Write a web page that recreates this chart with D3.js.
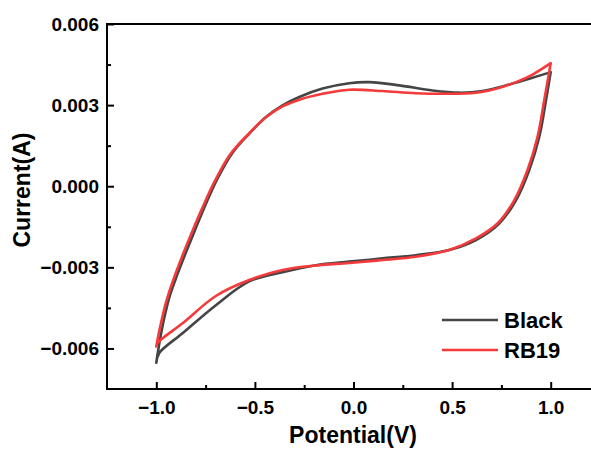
<!DOCTYPE html>
<html>
<head>
<meta charset="utf-8">
<script src="https://cdn.jsdelivr.net/npm/d3@7"></script>
<style>
  body { margin: 0; background: #fff; }
  svg { display: block; font-family: "Liberation Sans", Arial, sans-serif; font-weight: bold; }
</style>
</head>
<body>
<svg width="591" height="456"></svg>
<script>
// CV loops: [potential V, current A]
// forward sweep (-1 -> 1) and reverse sweep (1 -> -1) kept apart so the corners stay sharp
const blackForward = [
  [-1.00, -0.00653], [-0.990, -0.00605], [-0.975, -0.00542], [-0.955, -0.00472],
  [-0.930, -0.00402], [-0.894, -0.00328], [-0.853, -0.00251], [-0.802, -0.00159],
  [-0.747, -0.00063], [-0.691, 0.00026], [-0.615, 0.00122], [-0.529, 0.00194],
  [-0.444, 0.00256], [-0.360, 0.00299], [-0.275, 0.00330], [-0.157, 0.00361],
  [-0.022, 0.00381], [0.080, 0.00385], [0.232, 0.00373], [0.401, 0.00354],
  [0.536, 0.00346], [0.654, 0.00352], [0.790, 0.00376], [0.908, 0.00401],
  [1.00, 0.00422]
];
const blackReverse = [
  [1.00, 0.00422], [0.976, 0.00317], [0.942, 0.00182], [0.891, 0.00059],
  [0.824, -0.00052], [0.739, -0.00138], [0.621, -0.00199], [0.485, -0.00236],
  [0.316, -0.00255], [0.147, -0.00267], [-0.022, -0.00279], [-0.191, -0.00292],
  [-0.360, -0.00318], [-0.529, -0.00352], [-0.698, -0.00440], [-0.867, -0.00544],
  [-0.985, -0.00617], [-1.00, -0.00653]
];
const rb19Forward = [
  [-1.00, -0.00593], [-0.990, -0.00553], [-0.975, -0.00502], [-0.950, -0.00428],
  [-0.914, -0.00347], [-0.874, -0.00269], [-0.823, -0.00177], [-0.767, -0.00081],
  [-0.706, 0.00015], [-0.625, 0.00118], [-0.529, 0.00196], [-0.444, 0.00255],
  [-0.360, 0.00295], [-0.275, 0.00320], [-0.157, 0.00342], [-0.022, 0.00357],
  [0.147, 0.00352], [0.316, 0.00344], [0.485, 0.00342], [0.621, 0.00346],
  [0.688, 0.00354], [0.824, 0.00385], [0.908, 0.00413], [1.00, 0.00455]
];
const rb19Reverse = [
  [1.00, 0.00455], [0.967, 0.00317], [0.933, 0.00182], [0.882, 0.00059],
  [0.815, -0.00052], [0.730, -0.00138], [0.621, -0.00193], [0.485, -0.00236],
  [0.316, -0.00261], [0.147, -0.00273], [-0.022, -0.00284], [-0.191, -0.00293],
  [-0.360, -0.00310], [-0.529, -0.00347], [-0.698, -0.00406], [-0.867, -0.00507],
  [-0.994, -0.00580], [-1.00, -0.00593]
];
const seriesNames = ['Black', 'RB19'];
const seriesColors = ['#454545', '#f43a3a'];
const xTicks = [-1.0, -0.5, 0.0, 0.5, 1.0];
const xMinor = [-0.75, -0.25, 0.25, 0.75];
const yTicks = [-0.006, -0.003, 0.000, 0.003, 0.006];
const yMinor = [-0.0045, -0.0015, 0.0015, 0.0045];

const svg = d3.select('svg');
const plotL = 107, plotT = 24, plotB = 389, plotR = 600;

const x = d3.scaleLinear().domain([-1.25, 1.25]).range([plotL, plotR]);
const y = d3.scaleLinear().domain([-0.0075, 0.006]).range([plotB, plotT]);

// curves first, frame over them
const line = d3.line().x(d => x(d[0])).y(d => y(d[1])).curve(d3.curveCatmullRom.alpha(0.5));
[[blackForward, blackReverse], [rb19Forward, rb19Reverse]].forEach((sweeps, i) => {
  svg.append('path')
    .attr('d', line(sweeps[0]) + line(sweeps[1]))
    .attr('fill', 'none')
    .attr('stroke', seriesColors[i]).attr('stroke-width', 2.6)
    .attr('stroke-linecap', 'round');
});

// inward ticks
svg.append('g').attr('transform', `translate(0,${plotB})`)
  .call(d3.axisBottom(x).tickValues(xTicks).tickSize(-7).tickSizeOuter(0).tickPadding(12)
    .tickFormat(d3.format('.1f')));
svg.append('g').attr('transform', `translate(0,${plotB})`)
  .call(d3.axisBottom(x).tickValues(xMinor).tickSize(-4).tickSizeOuter(0).tickFormat(''));
svg.append('g').attr('transform', `translate(${plotL},0)`)
  .call(d3.axisLeft(y).tickValues(yTicks).tickSize(-7).tickSizeOuter(0).tickPadding(8)
    .tickFormat(d3.format('.3f')));
svg.append('g').attr('transform', `translate(${plotL},0)`)
  .call(d3.axisLeft(y).tickValues(yMinor).tickSize(-4).tickSizeOuter(0).tickFormat(''));

svg.selectAll('.domain').remove();
svg.selectAll('.tick line').attr('stroke', '#000').attr('stroke-width', 2);
svg.selectAll('.tick text').attr('fill', '#000')
  .style('font-size', '19px').style('font-family', '"Liberation Sans", Arial, sans-serif')
  .style('font-weight', 'bold');

// frame
svg.append('rect')
  .attr('x', plotL).attr('y', plotT)
  .attr('width', plotR - plotL).attr('height', plotB - plotT)
  .attr('fill', 'none').attr('stroke', '#000').attr('stroke-width', 2);

// axis titles
svg.append('text')
  .attr('x', 353).attr('y', 443)
  .attr('text-anchor', 'middle').style('font-size', '23px')
  .text('Potential(V)');
svg.append('text')
  .attr('transform', 'translate(30,190) rotate(-90)')
  .attr('text-anchor', 'middle').style('font-size', '23px')
  .text('Current(A)');

// legend
const legend = svg.append('g');
seriesNames.forEach((name, i) => {
  const ly = 320 + i * 30;
  legend.append('line')
    .attr('x1', 442).attr('x2', 498).attr('y1', ly).attr('y2', ly)
    .attr('stroke', seriesColors[i]).attr('stroke-width', 2.6);
  legend.append('text')
    .attr('x', 504).attr('y', ly + 8)
    .style('font-size', '22px')
    .text(name);
});
</script>
</body>
</html>
